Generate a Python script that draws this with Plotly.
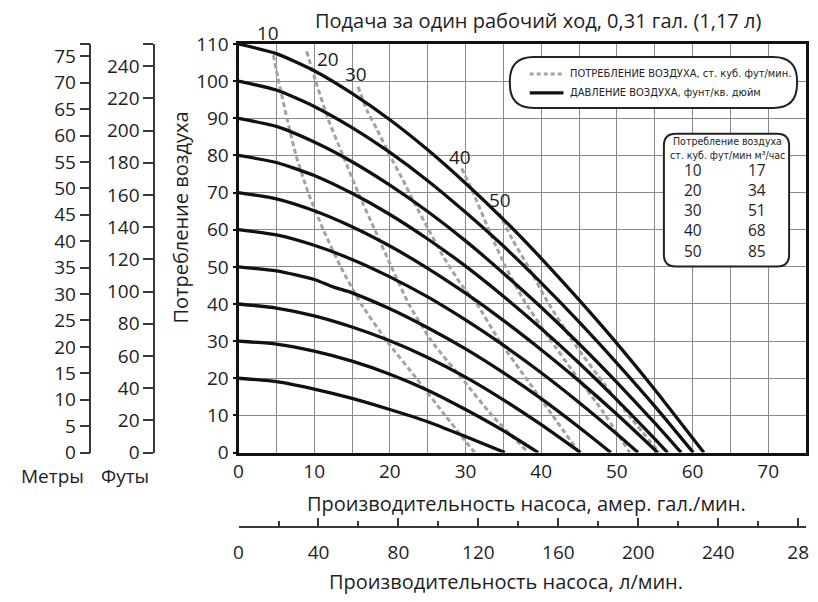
import plotly.graph_objects as go

# ---------------- data ----------------
# pressure curves (psi) : flow (US gal/min) -> outlet pressure (psi)
p110_x = [0, 5, 10, 15, 20, 25, 30, 35, 40, 45, 50, 55, 61.5]
p110_y = [110, 107.4, 102.8, 96.7, 89.6, 81.5, 72.5, 62.8, 52.3, 41.1, 29.4, 17.0, 0]
p100_x = [0, 5, 10, 15, 20, 25, 30, 35, 40, 45, 50, 55, 60.1]
p100_y = [100, 97.6, 93.2, 87.5, 80.8, 73.2, 64.7, 55.6, 45.7, 35.2, 24.1, 12.5, 0]
p90_x = [0, 5, 10, 15, 20, 25, 30, 35, 40, 45, 50, 55, 58.5]
p90_y = [90, 87.8, 83.6, 78.3, 72.0, 64.9, 57.0, 48.3, 39.1, 29.3, 18.9, 8.0, 0]
p80_x = [0, 5, 10, 15, 20, 25, 30, 35, 40, 45, 50, 55, 56.7]
p80_y = [80, 78.1, 74.6, 69.8, 64.1, 57.5, 50.2, 42.1, 33.4, 24.1, 14.2, 3.7, 0]
p70_x = [0, 5, 10, 15, 20, 25, 30, 35, 40, 45, 50, 55.4]
p70_y = [70, 68.3, 65.1, 60.8, 55.6, 49.6, 42.9, 35.6, 27.7, 19.3, 10.3, 0]
p60_x = [0, 5, 10, 15, 20, 25, 30, 35, 40, 45, 50, 52.8]
p60_y = [60, 58.6, 55.8, 52.0, 47.3, 41.9, 35.7, 28.9, 21.5, 13.5, 5.0, 0]
p50_x = [0, 5, 10, 12.5, 15, 20, 25, 30, 35, 40, 45, 49.2]
p50_y = [50, 48.9, 46.6, 44.6, 43.0, 38.7, 33.6, 27.9, 21.5, 14.5, 6.8, 0]
p40_x = [0, 5, 10, 15, 20, 25, 30, 35, 40, 45.2]
p40_y = [40, 38.9, 36.8, 33.8, 30.1, 25.6, 20.3, 14.2, 7.5, 0]
p30_x = [0, 5, 10, 15, 20, 25, 30, 35, 39.6]
p30_y = [30, 29.2, 27.3, 24.6, 21.1, 16.8, 11.6, 5.9, 0]
p20_x = [0, 5, 10, 15, 20, 25, 30, 35.2]
p20_y = [20, 19.1, 17.1, 14.6, 11.6, 8.3, 4.3, 0]

pressure_x = [p110_x, p100_x, p90_x, p80_x, p70_x, p60_x, p50_x, p40_x, p30_x, p20_x]
pressure_y = [p110_y, p100_y, p90_y, p80_y, p70_y, p60_y, p50_y, p40_y, p30_y, p20_y]

# air consumption lines (scfm)
air_cfm = [10, 20, 30, 40, 50]
air_m3h = [17, 34, 51, 68, 85]
air10_x = [4.6, 5.3, 6.4, 7.6, 9.2, 11.2, 13.5, 16.2, 19.6, 23.5, 27.3, 31.2]
air10_y = [107, 100, 90, 80, 70, 60, 50, 40, 30, 20, 10, 0]
air20_x = [9.0, 10.2, 11.8, 13.8, 15.8, 18.0, 20.2, 22.5, 25.5, 29.5, 33.5, 38.3]
air20_y = [108, 100, 90, 80, 70, 60, 50, 40, 30, 20, 10, 0]
air30_x = [15.8, 17.0, 18.3, 20.0, 21.7, 23.3, 25.0, 27.0, 29.5, 31.5, 34.5, 38.0, 41.5, 45.0]
air30_y = [98.5, 92, 87, 80, 73.5, 67, 60.5, 53, 45, 40, 30, 20, 10, 0]
air40_x = [29.5, 31.0, 33.5, 35.3, 37.7, 41.0, 44.5, 48.0, 51.7]
air40_y = [76.5, 70, 58, 50, 41, 31, 21, 11.5, 0]
air50_x = [34.4, 36.3, 38.3, 41.0, 44.5, 48.5, 52.0, 55.6]
air50_y = [64.5, 57, 50, 40, 29, 18, 9, 0]
air_x = [air10_x, air20_x, air30_x, air40_x, air50_x]
air_y = [air10_y, air20_y, air30_y, air40_y, air50_y]
air_label_x = [3.9, 11.8, 15.5, 29.3, 34.5]
air_label_y = [113, 106, 102, 79.6, 68]

gal_ticks = [0, 10, 20, 30, 40, 50, 60, 70]
lpm_ticks = [0, 40, 80, 120, 160, 200, 240, 280]
lpm_ticktext = ["0", "40", "80", "120", "160", "200", "240", "28"]
m_ticks = list(range(0, 80, 5))
ft_ticks = list(range(0, 260, 20))

title_text = "Подача за один рабочий ход, 0,31 гал. (1,17 л)"
ytitle_text = "Потребление воздуха"
gal_title = "Производительность насоса, амер. гал./мин."
lpm_title = "Производительность насоса, л/мин."
legend_air = "ПОТРЕБЛЕНИЕ ВОЗДУХА, ст. куб. фут/мин."
legend_pr = "ДАВЛЕНИЕ ВОЗДУХА, фунт/кв. дюйм"
table_head1 = "Потребление воздуха"
table_head2 = "ст. куб. фут/мин м³/час"

# ---------------- geometry ----------------
W, H = 818, 602
ML, MR, MT, MB = 0, 12, 44, 12
PW, PH = W - ML - MR, H - MT - MB
X_L, X_R = 235, 806
Y_T, Y_B = 44, 453.3
XMAX, YMAX = 75, 110
GAL_TO_L = 3.78541
PSI_TO_M = 0.70307
PSI_TO_FT = 2.3067


def pxx(xp):
    return (xp - ML) / PW


def pyy(yp):
    return (H - MB - yp) / PH


def dx(xp):
    return (xp - X_L) / ((X_R - X_L) / XMAX)


def dy(yp):
    return (Y_B - yp) / ((Y_B - Y_T) / YMAX)


def d2px(x):
    return X_L + x * (X_R - X_L) / XMAX


def d2py(y):
    return Y_B - y * (Y_B - Y_T) / YMAX


def rrect(x0, y0, x1, y1, r):
    pts = [
        ("M", [(x0 + r, y0)]), ("L", [(x1 - r, y0)]), ("Q", [(x1, y0), (x1, y0 + r)]),
        ("L", [(x1, y1 - r)]), ("Q", [(x1, y1), (x1 - r, y1)]), ("L", [(x0 + r, y1)]),
        ("Q", [(x0, y1), (x0, y1 - r)]), ("L", [(x0, y0 + r)]), ("Q", [(x0, y0), (x0 + r, y0)]),
    ]
    s = ""
    for cmd, cs in pts:
        s += cmd + " " + " ".join(f"{dx(a):.4f},{dy(b):.4f}" for a, b in cs) + " "
    return s + "Z"


FONT = "Open Sans, Noto Sans, sans-serif"
NARROW = "Liberation Sans Narrow, DejaVu Sans Condensed, sans-serif"
TXT = "#1e1e1e"

fig = go.Figure()

for xs, ys in zip(air_x, air_y):
    fig.add_trace(go.Scatter(x=xs, y=ys, mode="lines", showlegend=False, hoverinfo="skip",
                             line=dict(color="#a3a3a3", width=3, dash="5px,3px", shape="spline", smoothing=0.5)))
for xs, ys in zip(pressure_x, pressure_y):
    fig.add_trace(go.Scatter(x=xs, y=ys, mode="lines", showlegend=False, hoverinfo="skip",
                             line=dict(color="#111111", width=3.3, shape="spline", smoothing=0.6)))

# dummy traces so that the secondary scales are drawn
fig.add_trace(go.Scatter(x=[None], y=[None], xaxis="x2", yaxis="y", showlegend=False, hoverinfo="skip"))
fig.add_trace(go.Scatter(x=[None], y=[None], xaxis="x", yaxis="y2", showlegend=False, hoverinfo="skip"))
fig.add_trace(go.Scatter(x=[None], y=[None], xaxis="x", yaxis="y3", showlegend=False, hoverinfo="skip"))

grid = "#8a8a8a"
tickfont = dict(family=FONT, size=19, color=TXT)
sec = "#3a3a3a"

m_max = YMAX * PSI_TO_M
ft_max = YMAX * PSI_TO_FT
l_max = XMAX * GAL_TO_L

fig.update_layout(
    width=W, height=H, margin=dict(l=ML, r=MR, t=MT, b=MB),
    paper_bgcolor="white", plot_bgcolor="white",
    font=dict(family=FONT, color=TXT),
    xaxis=dict(domain=[pxx(X_L), 1], range=[0, XMAX], tickvals=gal_ticks, showgrid=True,
               gridcolor=grid, gridwidth=1.3, minor=dict(dtick=5, tick0=0, showgrid=True, gridcolor=grid, gridwidth=1.3),
               showline=True, mirror=True, linecolor="#111", linewidth=3, ticks="", zeroline=False,
               tickfont=tickfont, ticklabelstandoff=0, anchor="y"),
    yaxis=dict(domain=[pyy(Y_B), pyy(Y_T)], range=[0, YMAX], dtick=10, tick0=0, showgrid=True,
               gridcolor=grid, gridwidth=1.3, showline=True, mirror=True, linecolor="#111", linewidth=3,
               ticks="outside", ticklen=3, tickwidth=2, tickcolor="#111", zeroline=False,
               tickfont=tickfont, anchor="x"),
    xaxis2=dict(overlaying="x", anchor="free", position=pyy(528), range=[0, l_max],
                tickvals=lpm_ticks + [l_max], ticktext=lpm_ticktext + [""], ticks="inside", ticklen=8,
                tickwidth=1.5, tickcolor=sec, showline=True, linecolor=sec, linewidth=1.5, showgrid=False,
                zeroline=False, side="bottom", tickfont=tickfont, ticklabelstandoff=8,
                minor=dict(dtick=20, tick0=0, ticks="inside", ticklen=5, tickwidth=1.5, tickcolor=sec)),
    yaxis2=dict(overlaying="y", anchor="free", position=pxx(86), side="left", range=[0, m_max],
                tickvals=m_ticks + [m_max], ticktext=[str(v) for v in m_ticks] + [""],
                ticks="outside", ticklen=10, tickwidth=1.5, tickcolor=sec,
                showline=True, linecolor=sec, linewidth=1.5, showgrid=False, zeroline=False,
                tickfont=tickfont),
    yaxis3=dict(overlaying="y", anchor="free", position=pxx(150), side="left", range=[0, ft_max],
                tickvals=ft_ticks + [ft_max], ticktext=[str(v) for v in ft_ticks] + [""],
                ticks="outside", ticklen=10, tickwidth=1.5, tickcolor=sec,
                showline=True, linecolor=sec, linewidth=1.5, showgrid=False, zeroline=False,
                tickfont=tickfont),
)

ann = []


def ptext(text, xp, yp, size=20, family=FONT, xanchor="center", angle=0):
    ann.append(dict(text=text, x=pxx(xp), y=pyy(yp), xref="paper", yref="paper", showarrow=False,
                    xanchor=xanchor, yanchor="middle", textangle=angle,
                    font=dict(family=family, size=size, color=TXT)))


ptext(title_text, 536, 20, 20)
ptext(ytitle_text, 177, 218, 20, angle=-90)
ptext("Метры", 48, 477, 19)
ptext("Футы", 121, 477, 19)
ptext(gal_title, 525, 504, 20)
ptext(lpm_title, 504, 582, 20)

for c, lx, ly in zip(air_cfm, air_label_x, air_label_y):
    ptext(str(c), d2px(lx), d2py(ly), 19)

# legend box
shapes = []
shapes.append(dict(type="path", path=rrect(508, 57, 797, 108, 24), xref="x", yref="y", layer="above",
                   line=dict(color="#222", width=2), fillcolor="white"))
shapes.append(dict(type="line", x0=dx(528), x1=dx(562), y0=dy(74), y1=dy(74), xref="x", yref="y",
                   layer="above", line=dict(color="#a3a3a3", width=3, dash="4px,3px")))
shapes.append(dict(type="line", x0=dx(528), x1=dx(562), y0=dy(93), y1=dy(93), xref="x", yref="y",
                   layer="above", line=dict(color="#111", width=3.3)))
ptext(legend_air, 567, 74, 11, NARROW, xanchor="left")
ptext(legend_pr, 567, 93, 11, NARROW, xanchor="left")

# table box
shapes.append(dict(type="path", path=rrect(663, 134, 789, 267, 12), xref="x", yref="y", layer="above",
                   line=dict(color="#222", width=2), fillcolor="white"))
ptext(table_head1, 727, 141, 10.5, NARROW)
ptext(table_head2, 727, 155, 10.5, NARROW)
col_cfm = "<br>".join(str(c) for c in air_cfm)
col_m3h = "<br>".join(str(m) for m in air_m3h)
ptext(col_cfm, 692, 211, 15.5)
ptext(col_m3h, 757, 211, 15.5)

fig.update_layout(annotations=ann, shapes=shapes)
fig.write_html("out.html")
